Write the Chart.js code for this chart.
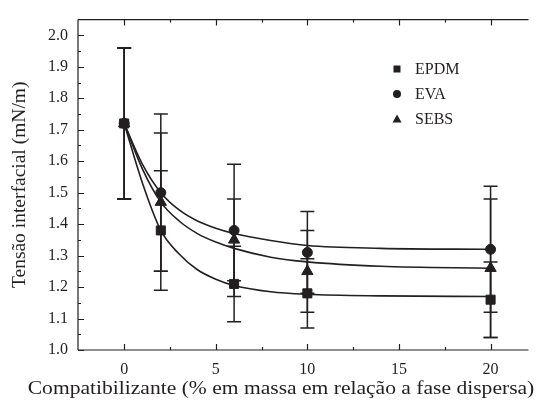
<!DOCTYPE html>
<html lang="pt">
<head>
  <meta charset="UTF-8">
  <title>Tensão interfacial</title>
  <script src="https://cdn.jsdelivr.net/npm/chart.js"></script>
  <style>
    html, body { margin: 0; padding: 0; background: #fff; }
    #wrap { width: 536px; height: 401px; }
  </style>
</head>
<body>
<div id="wrap"><canvas id="c"></canvas></div>
<script>
  // dados
  const xPts = [0, 2, 6, 10, 20];
  const epdm = [1.72, 1.38, 1.21, 1.18, 1.16];
  const eva  = [1.72, 1.50, 1.38, 1.31, 1.32];
  const sebs = [1.72, 1.47, 1.35, 1.25, 1.26];
  const epdmErr = [0.24, 0.19, 0.12, 0.11, 0.12];
  const evaErr  = [0.24, 0.25, 0.21, 0.13, 0.20];
  const sebsErr = [0.24, 0.22, 0.13, 0.13, 0.22];

  // curvas ajustadas (pontos lidos ao longo das linhas)
  const fitX    = [0, 1, 2, 3, 4, 5, 6, 8, 10, 14, 20];
  const epdmFit = [1.72, 1.53, 1.38, 1.305, 1.255, 1.225, 1.205, 1.185, 1.177, 1.172, 1.170];
  const evaFit  = [1.72, 1.59, 1.50, 1.445, 1.41, 1.387, 1.37, 1.348, 1.332, 1.323, 1.320];
  const sebsFit = [1.72, 1.575, 1.47, 1.41, 1.37, 1.343, 1.323, 1.295, 1.28, 1.266, 1.26];

  const xTicks = [0, 5, 10, 15, 20];
  const yTicks = [1.0, 1.1, 1.2, 1.3, 1.4, 1.5, 1.6, 1.7, 1.8, 1.9, 2.0];
  const names = ['EPDM', 'EVA', 'SEBS'];
  const styles = ['rect', 'circle', 'triangle'];
  const xTitle = 'Compatibilizante (% em massa em relação a fase dispersa)';

  const INK = '#231f20';
  const FONT = "'Liberation Serif', 'DejaVu Serif', serif";

  const toXY = (xs, ys) => xs.map((x, i) => ({ x: x, y: ys[i] }));

  const fitSet = ys => ({
    type: 'line', data: toXY(fitX, ys), borderColor: INK, borderWidth: 1.6,
    pointRadius: 0, cubicInterpolationMode: 'monotone', fill: false, order: 2
  });
  const ptSet = (ys, style, r) => ({
    type: 'scatter', data: toXY(xPts, ys), pointStyle: style, pointRadius: r,
    backgroundColor: INK, borderColor: INK, borderWidth: 1, order: 1
  });

  const errBars = {
    id: 'errBars',
    beforeDatasetsDraw(chart) {
      const { ctx, scales: { x, y } } = chart;
      const sets = [[epdm, epdmErr], [eva, evaErr], [sebs, sebsErr]];
      ctx.save();
      ctx.strokeStyle = INK;
      ctx.lineWidth = 1.5;
      sets.forEach(([vals, errs]) => {
        vals.forEach((v, i) => {
          const px = x.getPixelForValue(xPts[i]);
          const top = y.getPixelForValue(v + errs[i]);
          const bot = y.getPixelForValue(v - errs[i]);
          ctx.beginPath();
          ctx.moveTo(px, top); ctx.lineTo(px, bot);
          ctx.moveTo(px - 7, top); ctx.lineTo(px + 7, top);
          ctx.moveTo(px - 7, bot); ctx.lineTo(px + 7, bot);
          ctx.stroke();
        });
      });
      ctx.restore();
    }
  };

  const frame = {
    id: 'frame',
    afterDraw(chart) {
      const { ctx, chartArea: a, scales: { x, y } } = chart;
      ctx.save();
      ctx.strokeStyle = INK;
      ctx.lineWidth = 1.2;
      ctx.beginPath();
      ctx.moveTo(a.left, a.top); ctx.lineTo(a.left, a.bottom);
      ctx.moveTo(a.left, a.bottom); ctx.lineTo(a.right, a.bottom);
      ctx.moveTo(a.left, a.top); ctx.lineTo(a.right, a.top);
      // x ticks (inward, bottom and top)
      for (let v = -2.5; v <= 22; v += 2.5) {
        const px = Math.round(x.getPixelForValue(v)) + 0.5;
        if (px <= a.left + 1 || px >= a.right) continue;
        const len = (v % 5 === 0) ? 6 : 3;
        ctx.moveTo(px, a.bottom); ctx.lineTo(px, a.bottom - len);
        ctx.moveTo(px, a.top); ctx.lineTo(px, a.top + len);
      }
      // y ticks (inward)
      for (let k = 0; k <= 20; k++) {
        const v = 1.0 + k * 0.05;
        const py = Math.round(y.getPixelForValue(v)) + 0.5;
        const len = (k % 2 === 0) ? 6 : 3;
        ctx.moveTo(a.left, py); ctx.lineTo(a.left + len, py);
      }
      ctx.stroke();

      // legenda
      ctx.fillStyle = INK;
      ctx.font = '16px ' + FONT;
      ctx.textBaseline = 'middle';
      names.forEach((n, i) => {
        const ly = 69 + i * 25;
        const lx = 397;
        ctx.beginPath();
        if (styles[i] === 'rect') {
          ctx.rect(lx - 3.5, ly - 3.5, 7, 7);
        } else if (styles[i] === 'circle') {
          ctx.arc(lx, ly, 4, 0, Math.PI * 2);
        } else {
          ctx.moveTo(lx, ly - 4.5); ctx.lineTo(lx + 4.5, ly + 3.5); ctx.lineTo(lx - 4.5, ly + 3.5);
          ctx.closePath();
        }
        ctx.fill();
        ctx.fillText(n, 415, ly + 1);
      });

      // título do eixo x (levemente esticado na horizontal como no original)
      ctx.save();
      ctx.translate(281, 389);
      ctx.scale(1.135, 1);
      ctx.font = '19px ' + FONT;
      ctx.textAlign = 'center';
      ctx.fillText(xTitle, 0, 0);
      ctx.restore();
      ctx.restore();
    }
  };

  new Chart(document.getElementById('c'), {
    data: {
      datasets: [
        fitSet(epdmFit), fitSet(evaFit), fitSet(sebsFit),
        ptSet(epdm, 'rect', 6.4), ptSet(eva, 'circle', 5), ptSet(sebs, 'triangle', 6.5)
      ]
    },
    options: {
      responsive: true,
      maintainAspectRatio: false,
      animation: false,
      layout: { padding: { top: 12, right: 0, left: 0, bottom: 0 } },
      plugins: { legend: { display: false }, tooltip: { enabled: false } },
      scales: {
        x: {
          type: 'linear', min: -2.52, max: 22.07,
          grid: { display: false, drawTicks: false }, border: { display: false },
          afterBuildTicks: s => { s.ticks = xTicks.map(v => ({ value: v })); },
          afterFit: s => { s.height = 51; },
          ticks: { color: INK, font: { family: FONT, size: 16 }, padding: 10, maxRotation: 0 }
        },
        y: {
          type: 'linear', min: 1.0, max: 2.05,
          grid: { display: false, drawTicks: false }, border: { display: false },
          afterBuildTicks: s => { s.ticks = yTicks.map(v => ({ value: v })); },
          afterFit: s => { s.width = 78; },
          ticks: {
            color: INK, font: { family: FONT, size: 16 }, padding: 10,
            callback: v => Number(v).toFixed(1)
          },
          title: {
            display: true, text: 'Tensão interfacial (mN/m)',
            color: INK, font: { family: FONT, size: 19.5 }, padding: { top: 8, bottom: 0 }
          }
        }
      }
    },
    plugins: [errBars, frame]
  });
</script>
</body>
</html>
